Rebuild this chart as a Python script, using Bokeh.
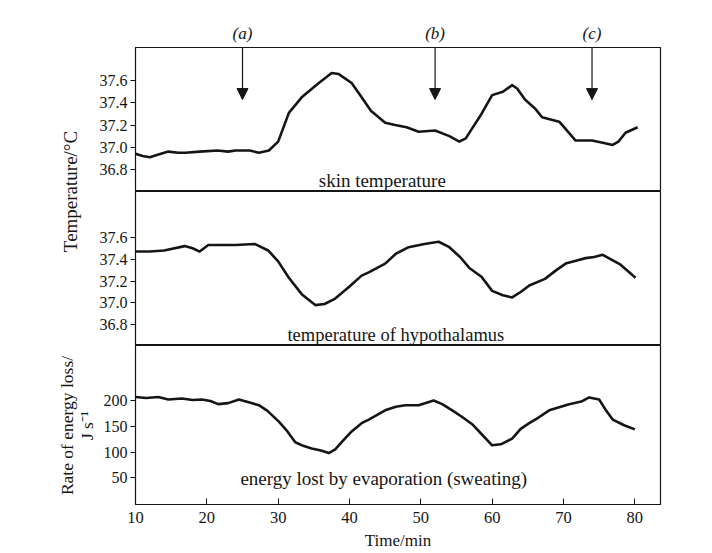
import math
from bokeh.plotting import figure
from bokeh.layouts import row, column
from bokeh.models import Range1d, Label, Arrow, NormalHead
from bokeh.embed import file_html
from bokeh.resources import INLINE

# ---------------- data ----------------
skin_time = [10, 11, 12, 13, 14.6, 16, 17, 19, 21.5, 23, 24, 26, 27.3, 28.7, 30,
             31.5, 33.3, 35.7, 37.5, 38.5, 40.3, 41.7, 43, 45, 46.4, 48, 49.7, 52,
             54, 55.4, 56.3, 57.2, 58.5, 60, 61.5, 62.8, 63.5, 64.6, 66, 67, 69.4,
             70.5, 71.7, 73, 74, 75.5, 76.9, 77.7, 78.7, 80.4]
skin_temp = [36.94, 36.92, 36.91, 36.93, 36.96, 36.95, 36.95, 36.96, 36.97, 36.96,
             36.97, 36.97, 36.95, 36.97, 37.05, 37.31, 37.45, 37.58, 37.67, 37.66,
             37.58, 37.45, 37.33, 37.22, 37.2, 37.18, 37.14, 37.15, 37.1, 37.05,
             37.08, 37.17, 37.3, 37.47, 37.5, 37.56, 37.53, 37.43, 37.35, 37.27,
             37.23, 37.15, 37.06, 37.06, 37.06, 37.04, 37.02, 37.05, 37.13, 37.18]

hypo_time = [10, 12, 14, 16.9, 18, 19, 20.2, 22, 24, 26.7, 28.6, 30, 31.5, 33.3,
             35.2, 36.5, 38, 40, 41.7, 42.7, 45, 46.5, 48.3, 50.5, 52.5, 54, 55.5,
             56.8, 58.5, 60, 61.5, 62.8, 64, 65.2, 67.4, 69, 70.3, 72, 73.1, 74.3,
             75.5, 78, 80.1]
hypo_temp = [37.47, 37.47, 37.48, 37.52, 37.5, 37.47, 37.53, 37.53, 37.53, 37.54,
             37.48, 37.38, 37.23, 37.08, 36.98, 36.99, 37.04, 37.15, 37.25, 37.28,
             37.36, 37.45, 37.51, 37.54, 37.56, 37.51, 37.42, 37.32, 37.24, 37.11,
             37.07, 37.05, 37.1, 37.16, 37.22, 37.3, 37.36, 37.39, 37.41, 37.42,
             37.44, 37.35, 37.23]

sweat_time = [10, 11.5, 13.2, 14.6, 16.5, 18, 19.3, 20.5, 21.6, 23, 24.5, 26, 27.3,
              28.5, 30.1, 31.3, 32.4, 33.5, 34.7, 36, 37.1, 38, 38.9, 40.3, 41.7,
              42.7, 45, 46.5, 47.8, 49.7, 51.8, 53, 54.4, 55.8, 57.2, 58.5, 60,
              61.2, 62.8, 64, 65.2, 66.5, 68, 70.8, 72.5, 73.6, 75, 76, 76.9, 78.5, 80]
sweat_rate = [207, 205, 207, 202, 204, 201, 202, 199, 193, 195, 202, 196, 191, 180,
              159, 140, 119, 112, 107, 103, 98, 105, 119, 140, 156, 163, 181, 188,
              191, 191, 200, 193, 181, 168, 154, 135, 113, 115, 126, 145, 156, 167,
              181, 193, 198, 206, 202, 180, 163, 152, 144]

arrow_times = [25, 52, 74]
arrow_labels = ["(a)", "(b)", "(c)"]
x_ticks = [10, 20, 30, 40, 50, 60, 70, 80]
temp_ticks = [36.8, 37.0, 37.2, 37.4, 37.6]
energy_ticks = [50, 100, 150, 200]

panel_titles = ["skin temperature", "temperature of hypothalamus",
                "energy lost by evaporation (sweating)"]
x_label = "Time/min"
temp_label = "Temperature/\u00b0C"
energy_label = ["Rate of energy loss/", "J s\u207b\u00b9"]

# ---------------- styling ----------------
SERIF = "Liberation Serif"
INK = "#151515"
x_range = Range1d(10, 83.6)

def blank(p):
    p.outline_line_color = None
    p.grid.visible = False
    p.background_fill_color = "white"
    p.border_fill_color = "white"

def style(p, ticks, fmt):
    p.outline_line_color = INK
    p.outline_line_width = 1.2
    p.grid.visible = False
    p.background_fill_color = "white"
    p.border_fill_color = "white"
    ax = p.yaxis[0]
    ax.ticker = ticks
    ax.major_label_overrides = {t: fmt(t) for t in ticks}
    ax.major_tick_out = 5
    ax.major_tick_in = 0
    ax.minor_tick_line_color = None
    ax.axis_line_color = INK
    ax.major_tick_line_color = INK
    ax.major_label_text_font = SERIF
    ax.major_label_text_font_size = "16px"
    ax.major_label_text_color = INK
    ax.major_label_standoff = 3

def panel_label(p, x, y, text, size):
    p.add_layout(Label(x=x, y=y, text=text, text_font=SERIF,
                       text_font_size=size, text_align="center",
                       text_baseline="middle", text_color=INK))

common = dict(width=608, output_backend="svg", toolbar_location=None,
              x_range=x_range, min_border_left=39, min_border_right=44)

# strip above the top panel holding the arrow letters
p0 = figure(height=47, y_range=Range1d(0, 47), x_axis_location=None,
            y_axis_location=None, min_border_top=0, min_border_bottom=0, **common)
blank(p0)
for t, lab in zip(arrow_times, arrow_labels):
    p0.add_layout(Label(x=t, y=14, text=lab, text_font=SERIF,
                        text_font_style="italic", text_font_size="17px",
                        text_align="center", text_baseline="middle",
                        text_color=INK))

# panel 1
p1 = figure(height=144, y_range=Range1d(36.6, 37.9), x_axis_location=None,
            min_border_top=0, min_border_bottom=0, **common)
style(p1, temp_ticks, lambda t: f"{t:.1f}")
p1.line(skin_time, skin_temp, line_color=INK, line_width=2.6, line_join="round")
for t in arrow_times:
    p1.add_layout(Arrow(x_start=t, y_start=37.9, x_end=t, y_end=37.43,
                        line_color=INK, line_width=1.2,
                        end=NormalHead(size=11, fill_color=INK, line_color=INK)))
panel_label(p1, 44.6, 36.7, panel_titles[0], "19px")

# panel 2
p2 = figure(height=154, y_range=Range1d(36.61, 38.02), x_axis_location=None,
            min_border_top=0, min_border_bottom=0, **common)
style(p2, temp_ticks, lambda t: f"{t:.1f}")
p2.line(hypo_time, hypo_temp, line_color=INK, line_width=2.6, line_join="round")
panel_label(p2, 46.5, 36.71, panel_titles[1], "18.5px")

# panel 3
p3 = figure(height=207, y_range=Range1d(-2, 307),
            min_border_top=0, min_border_bottom=40, **common)
style(p3, energy_ticks, lambda t: f"{t}")
p3.line(sweat_time, sweat_rate, line_color=INK, line_width=2.6, line_join="round")
panel_label(p3, 44.8, 48, panel_titles[2], "19px")
xa = p3.xaxis[0]
xa.ticker = x_ticks
xa.major_tick_in = 6
xa.major_tick_out = 0
xa.minor_tick_line_color = None
xa.axis_line_color = INK
xa.major_tick_line_color = INK
xa.major_label_text_font = SERIF
xa.major_label_text_font_size = "16.5px"
xa.major_label_text_color = INK
xa.major_label_standoff = 7
xa.axis_label = x_label
xa.axis_label_text_font = SERIF
xa.axis_label_text_font_size = "17px"
xa.axis_label_text_font_style = "normal"
xa.axis_label_text_color = INK
xa.axis_label_standoff = 5

# strip holding the vertical axis titles
H = 47 + 144 + 154 + 207
lab = figure(width=96, height=H, x_range=Range1d(0, 96), y_range=Range1d(H, 0),
             x_axis_location=None, y_axis_location=None, min_border=0,
             output_backend="svg", toolbar_location=None)
blank(lab)
lab.add_layout(Label(x=70, y=191, text=temp_label, angle=math.pi / 2,
                     text_font=SERIF, text_font_size="19px", text_align="center",
                     text_baseline="middle", text_color=INK))
lab.add_layout(Label(x=66, y=425, text=energy_label[0], angle=math.pi / 2,
                     text_font=SERIF, text_font_size="17.5px", text_align="center",
                     text_baseline="middle", text_color=INK))
lab.add_layout(Label(x=86, y=425, text=energy_label[1], angle=math.pi / 2,
                     text_font=SERIF, text_font_size="17.5px", text_align="center",
                     text_baseline="middle", text_color=INK))

layout = row(lab, column(p0, p1, p2, p3, spacing=0), spacing=0)

open("out.html", "w").write(file_html(layout, INLINE))
